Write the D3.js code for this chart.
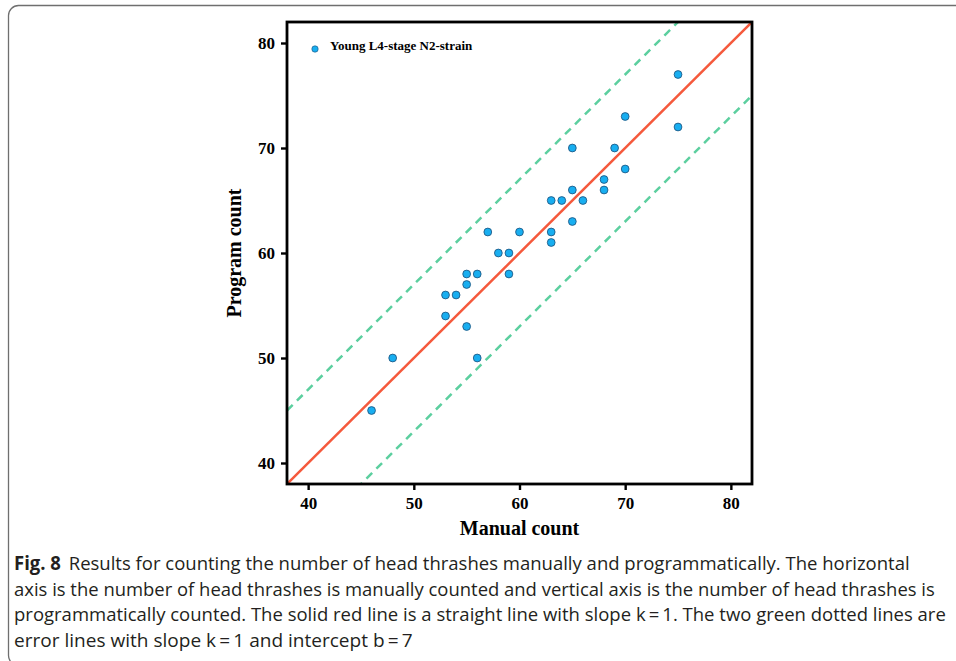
<!DOCTYPE html>
<html>
<head>
<meta charset="utf-8">
<script src="https://cdn.jsdelivr.net/npm/d3@7"></script>
<style>
  html, body { margin: 0; padding: 0; background: #fff; }
  svg { display: block; }
</style>
</head>
<body>
<svg id="chart" width="956" height="661"></svg>
<script>
// Manual vs program head-thrash counts (Young L4-stage N2-strain)
const manualCount  = [46, 48, 53, 53, 54, 55, 55, 55, 56, 56, 57, 58, 59, 59, 60,
                      63, 63, 63, 64, 65, 65, 65, 66, 68, 68, 69, 70, 70, 75, 75];
const programCount = [45, 50, 56, 54, 56, 58, 57, 53, 58, 50, 62, 60, 60, 58, 62,
                      65, 62, 61, 65, 70, 66, 63, 65, 67, 66, 70, 73, 68, 77, 72];
const tickValues = [40, 50, 60, 70, 80];
const refSlope = 1;
const errIntercepts = [7, -7];
const seriesName = "Young L4-stage N2-strain";
const captionLines = [
    "Results for counting the number of head thrashes manually and programmatically. The horizontal",
    "axis is the number of head thrashes is manually counted and vertical axis is the number of head thrashes is",
    "programmatically counted. The solid red line is a straight line with slope k\u2009=\u20091. The two green dotted lines are",
    "error lines with slope k\u2009=\u20091 and intercept b\u2009=\u20097"
];

const svg = d3.select("#chart");
const serif = "'Liberation Serif', 'Times New Roman', serif";
const sans = "'Open Sans', 'Noto Sans', sans-serif";

// outer frame
svg.append("rect")
    .attr("x", 8.5).attr("y", 5.5)
    .attr("width", 1000).attr("height", 660)
    .attr("rx", 10)
    .attr("fill", "none")
    .attr("stroke", "#6f6f6f")
    .attr("stroke-width", 1.3);

const box = { left: 287, right: 752, top: 22, bottom: 484 };
const x = d3.scaleLinear().domain([38, 82]).range([box.left, box.right]);
const y = d3.scaleLinear().domain([38, 82]).range([box.bottom, box.top]);

const data = manualCount.map((m, i) => ({ m, p: programCount[i] }));

svg.append("defs").append("clipPath").attr("id", "clip")
    .append("rect")
    .attr("x", box.left).attr("y", box.top)
    .attr("width", box.right - box.left).attr("height", box.bottom - box.top);

const plot = svg.append("g").attr("clip-path", "url(#clip)");

// error lines
errIntercepts.forEach(b => {
    const [d0, d1] = x.domain();
    plot.append("line")
        .attr("x1", x(d0)).attr("y1", y(refSlope * d0 + b))
        .attr("x2", x(d1)).attr("y2", y(refSlope * d1 + b))
        .attr("stroke", "#5ccf9f")
        .attr("stroke-width", 2.5)
        .attr("stroke-dasharray", "8,6");
});

// y = x reference line
{
    const [d0, d1] = x.domain();
    plot.append("line")
        .attr("x1", x(d0)).attr("y1", y(refSlope * d0))
        .attr("x2", x(d1)).attr("y2", y(refSlope * d1))
        .attr("stroke", "#f5593c")
        .attr("stroke-width", 2.5);
}

// points
plot.append("g")
    .selectAll("circle")
    .data(data)
    .join("circle")
    .attr("cx", d => x(d.m))
    .attr("cy", d => y(d.p))
    .attr("r", 3.9)
    .attr("fill", "#18aef0")
    .attr("stroke", "#1d4f7a")
    .attr("stroke-width", 0.8);

// axes
const xAxis = svg.append("g")
    .attr("transform", `translate(0,${box.bottom})`)
    .call(d3.axisBottom(x).tickValues(tickValues).tickSize(6).tickSizeOuter(0).tickPadding(7));
const yAxis = svg.append("g")
    .attr("transform", `translate(${box.left},0)`)
    .call(d3.axisLeft(y).tickValues(tickValues).tickSize(6).tickSizeOuter(0).tickPadding(6));

[xAxis, yAxis].forEach(a => {
    a.select(".domain").remove();
    a.selectAll(".tick line").attr("stroke", "#000").attr("stroke-width", 2.4);
    a.selectAll(".tick text")
        .attr("font-family", serif)
        .attr("font-weight", "bold")
        .attr("font-size", "17px")
        .attr("fill", "#000");
});

// frame around plot
svg.append("rect")
    .attr("x", box.left).attr("y", box.top)
    .attr("width", box.right - box.left).attr("height", box.bottom - box.top)
    .attr("fill", "none")
    .attr("stroke", "#000")
    .attr("stroke-width", 2.8);

// axis titles
svg.append("text")
    .attr("x", (box.left + box.right) / 2).attr("y", 535)
    .attr("text-anchor", "middle")
    .attr("font-family", serif).attr("font-weight", "bold").attr("font-size", "20px")
    .text("Manual count");

svg.append("text")
    .attr("transform", `translate(241,${(box.top + box.bottom) / 2}) rotate(-90)`)
    .attr("text-anchor", "middle")
    .attr("font-family", serif).attr("font-weight", "bold").attr("font-size", "20px")
    .text("Program count");

// legend
svg.append("circle")
    .attr("cx", 315).attr("cy", 49).attr("r", 3.2)
    .attr("fill", "#18aef0").attr("stroke", "#1d4f7a").attr("stroke-width", 0.6);
svg.append("text")
    .attr("x", 330).attr("y", 49.5)
    .attr("font-family", serif).attr("font-weight", "bold").attr("font-size", "13px")
    .text(seriesName);

// caption: condensed look via horizontal scale
const capX = 14;
const capY = [570, 596, 621, 647];
const capEnd = [910, 935, 946, 413];
captionLines.forEach((line, i) => {
    const g = svg.append("g");
    const t = g.append("text")
        .attr("x", 0)
        .attr("y", 0)
        .attr("font-family", sans)
        .attr("font-size", "19px")
        .attr("fill", "#231f20");
    if (i === 0) {
        t.append("tspan").attr("font-weight", "bold").text("Fig. 8");
        t.append("tspan").attr("dx", 8).text(line);
    } else {
        t.text(line);
    }
    const w = t.node().getBBox().width;
    const sx = (capEnd[i] - capX) / w;
    g.attr("transform", `translate(${capX},${capY[i]}) scale(${sx},1)`);
});
</script>
</body>
</html>
